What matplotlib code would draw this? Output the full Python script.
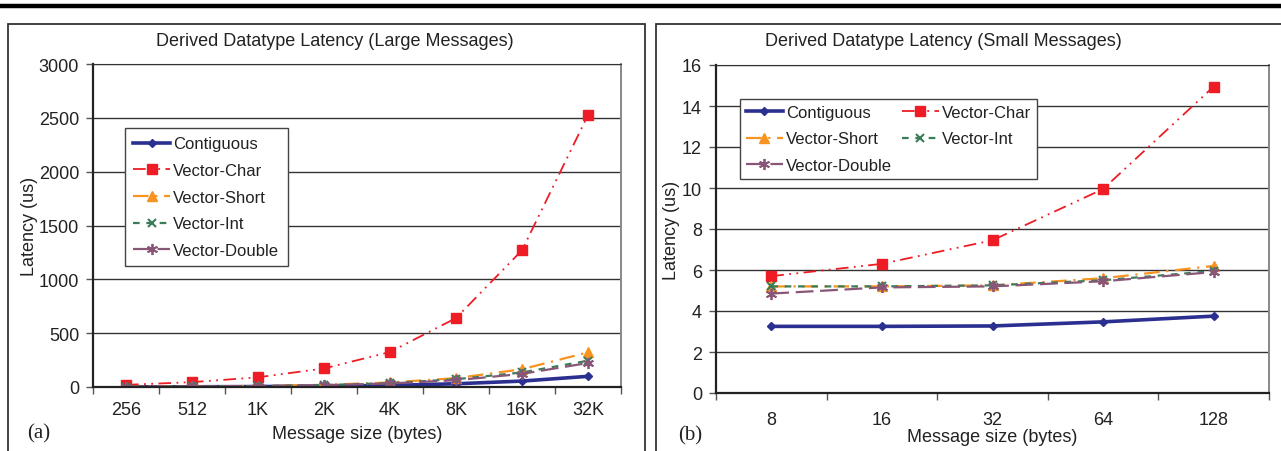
import matplotlib
matplotlib.use("Agg")
import matplotlib.pyplot as plt
import matplotlib.transforms as mtransforms
from matplotlib.patches import Rectangle
from matplotlib.lines import Line2D

plt.rcParams['font.family'] = ['Liberation Sans', 'DejaVu Sans']

# Large messages
large_sizes = ["256", "512", "1K", "2K", "4K", "8K", "16K", "32K"]
large_contiguous = [1, 2, 4, 8, 15, 30, 55, 99]
large_vchar = [20, 45, 90, 172, 325, 640, 1270, 2525]
large_vshort = [3, 5, 10, 20, 42, 82, 165, 322]
large_vint = [3, 5, 9, 18, 36, 72, 135, 244]
large_vdouble = [3, 5, 9, 17, 33, 63, 122, 223]

# Small messages
small_sizes = ["8", "16", "32", "64", "128"]
small_contiguous = [3.25, 3.25, 3.27, 3.47, 3.75]
small_vchar = [5.7, 6.3, 7.45, 9.95, 14.95]
small_vshort = [5.2, 5.2, 5.25, 5.6, 6.2]
small_vint = [5.2, 5.2, 5.25, 5.5, 5.95]
small_vdouble = [4.85, 5.15, 5.2, 5.45, 5.9]

series_names = ["Contiguous", "Vector-Char", "Vector-Short", "Vector-Int", "Vector-Double"]

W, H = 1281, 452
fig = plt.figure(figsize=(W / 100, H / 100), dpi=100)
TXT = "#222222"
FS = 13


def fx(px):
    return px / W


def fy(py):
    return 1 - py / H


styles = [
    dict(color="#2b2f8f", lw=2.6, ls="-", marker="D", ms=4.5, mec="#2b2f8f", mfc="#2b2f8f"),
    dict(color="#ee1c25", lw=1.3, ls=(0, (7, 3, 1, 3, 1, 3)), marker="s", ms=7, mec="#ee1c25", mfc="#ee1c25"),
    dict(color="#f7931e", lw=1.6, ls=(0, (7, 3, 1, 3)), marker="^", ms=7, mec="#f7931e", mfc="#f7931e"),
    dict(color="#3a7d5a", lw=1.6, ls=(0, (3, 3)), marker="x", ms=6, mew=1.5, mec="#3a7d5a"),
    dict(color="#8a5678", lw=1.6, ls=(0, (8, 3)), marker=(6, 2, 0), ms=8, mew=1.3, mec="#8a5678"),
]

# Heavy rule across the top and the two panel frames
fig.add_artist(Line2D([0, 1], [fy(6.5), fy(6.5)], color="black", lw=3.2, transform=fig.transFigure))
fig.add_artist(Rectangle((fx(8), fy(460)), fx(645 - 8), fy(25) - fy(460), transform=fig.transFigure,
                         fill=False, ec="#333333", lw=1.3))
fig.add_artist(Rectangle((fx(656), fy(460)), fx(1290 - 656), fy(25) - fy(460), transform=fig.transFigure,
                         fill=False, ec="#333333", lw=1.3))


def make_panel(x0, x1, ytop, ybot, cats, data, ymax, ystep, title, title_x, title_y,
               xlabel_y, tick_y, letter, letter_xy, ylabel_x, legend_box, ncol, order, bpad):
    ax = fig.add_axes([fx(x0), fy(ybot), fx(x1 - x0), fy(ytop) - fy(ybot)])
    n = len(cats)
    xs = list(range(n))
    lines = []
    for vals, st, name in zip(data, styles, series_names):
        lines += ax.plot(xs, vals, label=name, **st)
    ax.set_xlim(-0.5, n - 0.5)
    ax.set_ylim(0, ymax)
    ax.set_yticks([i * ystep for i in range(int(ymax / ystep) + 1)])
    ax.yaxis.grid(True, color="#333333", lw=1.0)
    ax.set_axisbelow(True)
    ax.set_xticks([i - 0.5 for i in range(n + 1)])
    ax.set_xticklabels([])
    ax.tick_params(axis="x", length=5, width=1, color="#555555", direction="out")
    ax.tick_params(axis="y", length=5, width=1, color="#555555", direction="out",
                   labelsize=FS, pad=5, labelcolor=TXT)
    for sp in ("left", "bottom"):
        ax.spines[sp].set_color("#222222")
        ax.spines[sp].set_linewidth(1.6)
    ax.spines["top"].set_color("#333333")
    ax.spines["right"].set_color("#888888")
    ax.spines["right"].set_linewidth(1.4)
    tr = mtransforms.blended_transform_factory(ax.transData, fig.transFigure)
    for i, c in enumerate(cats):
        ax.text(i, fy(tick_y), c, transform=tr, ha="center", va="center", fontsize=FS, color=TXT)
    fig.text(fx(title_x), fy(title_y), title, ha="center", va="center", fontsize=FS, color=TXT)
    fig.text(fx((x0 + x1) / 2), fy(xlabel_y), "Message size (bytes)", ha="center", va="center",
             fontsize=FS, color=TXT)
    fig.text(fx(letter_xy[0]), fy(letter_xy[1]), letter, ha="center", va="center", fontsize=15,
             family=["Liberation Serif", "DejaVu Serif"], color=TXT)
    fig.text(fx(ylabel_x), fy((ytop + ybot) / 2), "Latency (us)", rotation=90, ha="center",
             va="center", fontsize=FS, color=TXT)
    lx0, ly0 = legend_box
    leg = ax.legend([lines[k] for k in order], [series_names[k] for k in order],
                    loc="upper left", bbox_to_anchor=(fx(lx0), fy(ly0)), bbox_transform=fig.transFigure,
                    ncol=ncol, fontsize=12, frameon=True, fancybox=False, framealpha=1,
                    edgecolor="#444444", handlelength=2.2, handletextpad=0.2, borderpad=bpad,
                    labelspacing=0.7, columnspacing=0.6, borderaxespad=0)
    leg.get_frame().set_linewidth(1.0)
    for t in leg.get_texts():
        t.set_color(TXT)
    return ax


make_panel(93, 621, 65, 388, large_sizes,
           [large_contiguous, large_vchar, large_vshort, large_vint, large_vdouble],
           3000, 500, "Derived Datatype Latency (Large Messages)", 335, 42,
           435, 411, "(a)", (39, 434), 30, (125, 129), 1, [0, 1, 2, 3, 4], 0.5)

make_panel(716, 1269, 66, 394, small_sizes,
           [small_contiguous, small_vchar, small_vshort, small_vint, small_vdouble],
           16, 2, "Derived Datatype Latency (Small Messages)", 943, 42,
           438, 421, "(b)", (690, 436), 672, (740, 100), 2, [0, 2, 4, 1, 3], 0.35)

fig.savefig("out.png", dpi=100)
